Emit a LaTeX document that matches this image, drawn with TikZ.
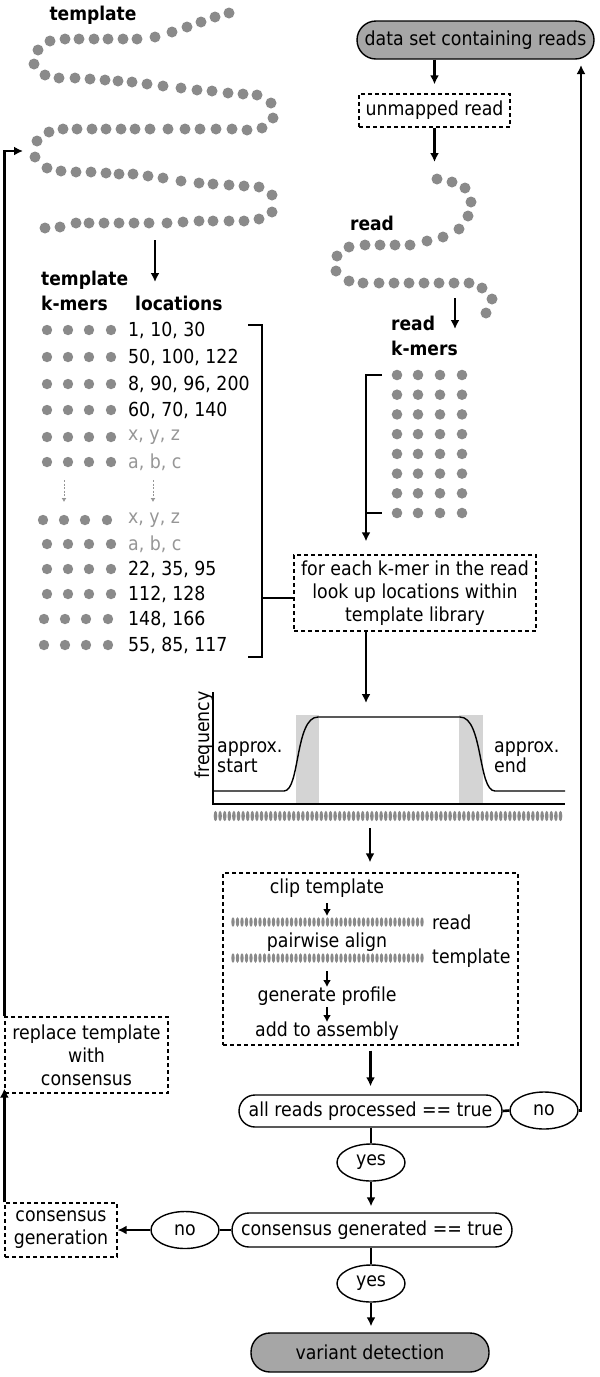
\documentclass[tikz,border=0pt]{standalone}
\usepackage{fontspec}
\setmainfont{DejaVu Sans Condensed}
\usetikzlibrary{arrows.meta,shapes.geometric,calc}
\definecolor{dotc}{RGB}{138,138,138}
\definecolor{txtgray}{RGB}{150,150,150}
\definecolor{termfill}{RGB}{166,166,166}
\definecolor{bandc}{RGB}{212,212,212}
\begin{document}
\begin{tikzpicture}[x=1pt,y=-1pt,
  every node/.style={inner sep=0pt,font=\fontsize{19.3}{23}\selectfont},
  conn/.style={line width=2.6pt},
  arr/.style={conn,-{Latex[length=9pt,width=9pt]}},
  dashbox/.style={draw,line width=1.3pt,dash pattern=on 4pt off 3pt,align=center},
  term/.style={draw,line width=1.4pt,fill=termfill,rounded corners=19pt,minimum height=38pt},
  cond/.style={draw,line width=1.4pt,rounded corners=16pt,minimum height=33pt},
  oval/.style={draw,ellipse,line width=1.4pt,minimum width=68pt,minimum height=37pt},
  lbl/.style={font=\fontsize{19}{23}\selectfont\bfseries},
  sdot/.style={fill=dotc},
  smallarr/.style={line width=2.1pt,-{Latex[length=7pt,width=8pt]}}]
\useasboundingbox (0,0) rectangle (600,1377);

% ---------- template snake ----------
\node[lbl] (tpl) at (93,15) {template};
\foreach \p in {(229,13),(215,17),(201,22),(187,27),(172,32),(155,37),(137,39),(123,39),(108,39),(94,39),(79,39),(65,39),(50,41),(38,50),(34,64),(45,75),(59,78),(75,78),(90,79),(105,80),(118,81),(132,82),(147,84),(163,86),(181,88),(197,90),(212,91),(228,93),(243,94),(257,95),(271,103),(273,118),(262,128),(247,130),(232,129),(216,129),(200,129),(185,129),(168,129),(150,129),(135,129),(121,129),(106,129),(92,129),(77,129),(63,129),(49,132),(37,141),(35,157),(47,168),(61,171),(76,172),(91,172),(106,173),(119,174),(133,174),(148,176),(163,178),(181,181),(199,183),(213,184),(229,185),(244,186),(259,187),(272,195),(272,212),(259,219),(244,221),(229,221),(213,221),(199,221),(183,222),(167,223),(149,223),(134,223),(119,223),(104,223),(89,223),(76,223),(60,227),(45,228)}
  \fill[sdot] \p circle (5.5pt);
\coordinate (tsb) at (155,240);
\coordinate (tkt) at (155,282);
\draw[arr] (tsb) -- (tkt);

% ---------- template k-mer table ----------
\node[lbl,anchor=west] (tkl1) at (41,280) {template};
\node[lbl,anchor=west] (tkl2) at (41,303) {k-mers};
\node[lbl,anchor=west] (locl) at (135,303) {locations};
\foreach \y/\t/\c/\o in {330/{1, 10, 30}/black/0, 357/{50, 100, 122}/black/0, 384/{8, 90, 96, 200}/black/0, 410/{60, 70, 140}/black/0, 437/{x, y, z}/txtgray/0, 462/{a, b, c}/txtgray/0, 520/{x, y, z}/txtgray/-4, 544/{a, b, c}/txtgray/0, 569/{22, 35, 95}/black/0, 594/{112, 128}/black/0, 619/{148, 166}/black/-3, 645/{55, 85, 117}/black/-3}{
  \foreach \x in {47,68,89,111} \fill[sdot] (\x+\o,\y) circle (5.2pt);
  \node[anchor=west,text=\c] at (128,\y) {\t};
}
\coordinate (da1) at (64,480); \coordinate (da2) at (64,502);
\coordinate (db1) at (153,480); \coordinate (db2) at (153,502);
\draw[txtgray,line width=1pt,dash pattern=on 2pt off 1.5pt,-{Latex[length=4pt,width=5pt]}] (da1) -- (da2);
\draw[txtgray,line width=1pt,dash pattern=on 2pt off 1.5pt,-{Latex[length=4pt,width=5pt]}] (db1) -- (db2);
\coordinate (tb1) at (248,325); \coordinate (tb2) at (262,325);
\coordinate (tb3) at (262,657); \coordinate (tb4) at (248,657);
\coordinate (tbm) at (262,598);
\draw[conn] (tb1) -- (tb2) -- (tb3) -- (tb4);

% ---------- right column ----------
\node[term,minimum width=237pt] (ds) at (475.5,40) {data set containing reads};
\node[dashbox,minimum width=151pt,minimum height=33pt] (um) at (434.5,110.5) {unmapped read};
\draw[arr,shorten >=9pt] (ds.south -| um.north) -- (um.north);
\coordinate (rst) at (434.5,162);
\draw[arr] (um.south) -- (rst);

% read snake
\node[lbl] (rdl) at (372,223) {read};
\foreach \p in {(437,179),(452,182),(465,188),(471,202),(468,216),(459,229),(443,237),(427,241),(410,245),(395,245),(380,245),(365,245),(349,247),(337,256),(336,271),(349,281),(363,283),(379,283),(394,283),(409,283),(424,283),(439,283),(454,283),(469,283),(482,288),(492,299),(486,313)}
  \fill[sdot] \p circle (5.5pt);
\coordinate (rsb) at (455,298);
\coordinate (rkt) at (455,329);
\draw[arr] (rsb) -- (rkt);
\node[lbl,anchor=west] (rk1) at (391,323) {read};
\node[lbl,anchor=west] (rk2) at (391,348) {k-mers};
\foreach \y in {375,394.7,414.4,434.1,453.9,473.6,493.3,513}
  \foreach \x in {397,418,440,462} \fill[sdot] (\x,\y) circle (5.3pt);
\coordinate (rb1) at (382,375); \coordinate (rb2) at (366,375);
\coordinate (rb3) at (366,513); \coordinate (rb4) at (382,513);
\draw[conn] (rb1) -- (rb2) -- (rb3) -- (rb4);

\node[dashbox,minimum width=242pt,minimum height=76pt] (look) at (415,593) {for each k-mer in the read\\look up locations within\\template library};
\draw[arr,shorten >=13pt] (rb3) -- (rb3 |- look.north);
\draw[conn] (tbm) -- (tbm -| look.west);

% ---------- frequency graph ----------
\coordinate (gt) at (366,703);
\draw[arr] (look.south -| gt) -- (gt);
\fill[bandc] (296,715) rectangle (319,804);
\fill[bandc] (459,715) rectangle (483,804);
\draw[line width=1.5pt] (213,692) -- (213,804) -- (565,804);
\draw[line width=1.4pt] (214,791) -- (284,791) .. controls (300,791) and (295,717) .. (318,717) -- (460,717) .. controls (483,717) and (478,791) .. (495,791) -- (565,791);
\node[rotate=90] (freq) at (204,735) {frequency};
\node[anchor=west,align=left,font=\fontsize{19.3}{20}\selectfont] (as) at (217,757) {approx.\\start};
\node[anchor=west,align=left,font=\fontsize{19.3}{20}\selectfont] (ae) at (494,757) {approx.\\end};
\foreach \i in {0,...,75} \fill[dotc] (215.5+\i*4.6,816) ellipse [x radius=1.8pt, y radius=5.2pt];

% ---------- process box ----------
\node[dashbox,minimum width=295pt,minimum height=172pt] (proc) at (370.5,959) {};
\coordinate (gb) at (370,828);
\draw[arr,shorten >=10pt] (gb) -- (gb |- proc.north);
\node (clip) at (327,888) {clip template};
\node (pw) at (327,942) {pairwise align};
\node (gp) at (327,996) {generate profile};
\node (ata) at (327,1031) {add to assembly};
\foreach \i in {0,...,42} {
  \fill[dotc] (233+\i*4.5,922) ellipse [x radius=1.7pt, y radius=4.8pt];
  \fill[dotc] (233+\i*4.5,958) ellipse [x radius=1.7pt, y radius=4.8pt];
}
\node[anchor=west] (rdt) at (432,922) {read};
\node[anchor=west] (tpt) at (432,958) {template};
\coordinate (s1) at (327,903); \coordinate (e1) at (327,916);
\coordinate (s2) at (327,971); \coordinate (e2) at (327,987);
\coordinate (s3) at (327,1007); \coordinate (e3) at (327,1022);
\draw[smallarr] (s1) -- (e1);
\draw[smallarr] (s2) -- (e2);
\draw[smallarr] (s3) -- (e3);

% ---------- decisions ----------
\node[cond,minimum width=263pt,minimum height=32pt] (arp) at (370.5,1111) {all reads processed == true};
\node[oval] (no1) at (544,1110.5) {no};
\node[oval] (yes1) at (371,1162.5) {yes};
\node[cond,minimum width=280pt,minimum height=34pt,rounded corners=17pt] (cgt) at (372,1230) {consensus generated == true};
\node[oval] (no2) at (185,1230) {no};
\node[oval] (yes2) at (371,1283.5) {yes};
\node[term,minimum width=238pt,minimum height=39pt] (var) at (370,1352.5) {variant detection};
\node[dashbox,minimum width=112pt,minimum height=54pt] (cg) at (61,1230) {consensus\\generation};
\node[dashbox,minimum width=163pt,minimum height=76pt] (rep) at (86.5,1055) {replace template\\with\\consensus};

\draw[arr,shorten <=5pt,shorten >=8pt] (proc.south) -- (proc.south |- arp.north);
\draw[conn] (arp.east) -- (no1.west);
\coordinate (dsr) at (581,65);
\draw[arr] (no1.east) -| (dsr);
\draw[conn] (arp.south -| yes1.north) -- (yes1.north);
\draw[arr,shorten >=6pt] (yes1.south) -- (yes1.south |- cgt.north);
\draw[conn] (cgt.west) -- (no2.east);
\draw[arr] (no2.west) -- (cg.east);
\draw[conn] (cgt.south -| yes2.north) -- (yes2.north);
\draw[arr,shorten >=6pt] (yes2.south) -- (yes2.south |- var.north);
\draw[arr,shorten >=-5pt] (cg.north west) -- (rep.south west);
\coordinate (tin) at (23,151);
\draw[arr] (rep.north west) |- (tin);
\end{tikzpicture}
\end{document}
